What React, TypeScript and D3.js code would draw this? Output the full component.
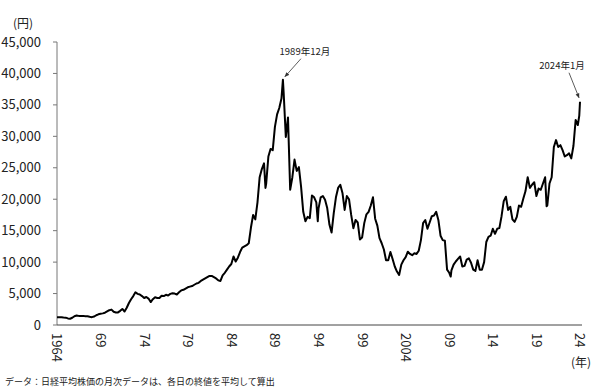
import React from "react";
import * as d3 from "d3";

// Nikkei monthly averages
const startYear = 1964;
const quarterMonths = [1, 4, 7, 10];
const quarterlyAverages: number[][] = [
  [1250, 1230, 1220, 1180], // 1964
  [1170, 1050, 1000, 1150],
  [1400, 1500, 1450, 1430],
  [1450, 1400, 1380, 1300],
  [1250, 1350, 1550, 1700],
  [1800, 1850, 1950, 2150], // 1969
  [2350, 2450, 2100, 2000],
  [2000, 2250, 2550, 2150],
  [2750, 3500, 4100, 4600],
  [5200, 4950, 4850, 4600],
  [4300, 4450, 4200, 3650], // 1974
  [4100, 4400, 4300, 4300],
  [4650, 4600, 4800, 4700],
  [4950, 5050, 5000, 4850],
  [5200, 5500, 5600, 5800],
  [6000, 6100, 6200, 6400], // 1979
  [6600, 6700, 7000, 7200],
  [7400, 7600, 7800, 7800],
  [7600, 7400, 7100, 7000],
  [7900, 8300, 8800, 9300],
  [9700, 10900, 10100, 10700], // 1984
  [11600, 12300, 12500, 12700],
  [13000, 15500, 17500, 16800],
  [19500, 23500, 24800, 25700],
  [22500, 26800, 28000, 27800],
  [31500, 33500, 34500, 36000], // 1989
  [37000, 29900, 33000, 21500],
  [23500, 26300, 24500, 25100],
  [22000, 18000, 16500, 17200],
  [17000, 20600, 20300, 19500],
  [18500, 20300, 20500, 19900], // 1994
  [18600, 16000, 14700, 17800],
  [20300, 21800, 22300, 21000],
  [18300, 20500, 20000, 17500],
  [15400, 16700, 16300, 13600],
  [13900, 16200, 17600, 18000], // 1999
  [19000, 20300, 16900, 15800],
  [13800, 13000, 12000, 10300],
  [10300, 11600, 10500, 9300],
  [8500, 7950, 9600, 10300],
  [10800, 11650, 11300, 11100], // 2004
  [11400, 11300, 11800, 13500],
  [16200, 16700, 15300, 16300],
  [17300, 17400, 18000, 16700],
  [14200, 13500, 13400, 8800],
  [8300, 8700, 9600, 10100], // 2009
  [10500, 10900, 9300, 9400],
  [10400, 10600, 9900, 8800],
  [8600, 10300, 8800, 8800],
  [10000, 13200, 14000, 14200],
  [15300, 14500, 15300, 15400], // 2014
  [17300, 19700, 20400, 18300],
  [18800, 16800, 16400, 17200],
  [19000, 18800, 20100, 21300],
  [23500, 21800, 22300, 22700],
  [20500, 21700, 21500, 22500], // 2019
  [23500, 19000, 22500, 23500],
  [28300, 29400, 28300, 28600],
  [27800, 26800, 27000, 27300],
  [26500, 28500, 32600, 31800],
];
const extraMonths: [string, number][] = [
  ["1987-12", 21800],
  ["1989-12", 39000],
  ["1993-12", 16500],
  ["2009-03", 7700],
  ["2020-03", 18900],
  ["2023-12", 33300],
  ["2024-01", 35500],
];

const yTicks = [0, 5000, 10000, 15000, 20000, 25000, 30000, 35000, 40000, 45000];
const xTickYears = [1964, 1969, 1974, 1979, 1984, 1989, 1994, 1999, 2004, 2009, 2014, 2019, 2024];
const xTickLabels = ["1964", "69", "74", "79", "84", "89", "94", "99", "2004", "09", "14", "19", "24"];
const peakLabel = { key: "1989-12", text: "1989年12月" };
const lastLabel = { key: "2024-01", text: "2024年1月" };
const footnote = "データ：日経平均株価の月次データは、各日の終値を平均して算出";

const font = "'Noto Sans CJK JP', 'Noto Sans', sans-serif";

const monthIndex = (y: number, m: number) => (y - startYear) * 12 + (m - 1);
const keyIndex = (k: string) => {
  const [y, m] = k.split("-").map(Number);
  return monthIndex(y, m);
};

type Pt = { i: number; v: number };

const points: Pt[] = [];
quarterlyAverages.forEach((row, r) => {
  row.forEach((v, q) => points.push({ i: monthIndex(startYear + r, quarterMonths[q]), v }));
});
extraMonths.forEach(([k, v]) => points.push({ i: keyIndex(k), v }));
points.sort((a, b) => a.i - b.i);

const App: React.FC = () => {
  const width = 600;
  const height = 392;
  const left = 57;
  const right = 580;
  const top = 42;
  const bottom = 325;

  const x = d3.scaleLinear().domain([0, monthIndex(2024, 1)]).range([left, right]);
  const y = d3.scaleLinear().domain([0, 45000]).range([bottom, top]);

  const line = d3
    .line<Pt>()
    .x((d) => x(d.i))
    .y((d) => y(d.v));

  const fmt = d3.format(",");

  const peak = points.find((p) => p.i === keyIndex(peakLabel.key))!;
  const last = points.find((p) => p.i === keyIndex(lastLabel.key))!;
  const px = x(peak.i);
  const py = y(peak.v);
  const lx = x(last.i);
  const ly = y(last.v);

  return (
    <svg
      width={width}
      height={height}
      style={{ position: "fixed", left: 0, top: 0, background: "#fff", fontFamily: font }}
    >
      <defs>
        <marker id="arr" viewBox="0 0 10 10" refX="9" refY="5" markerWidth="6" markerHeight="6" orient="auto">
          <path d="M0,1 L10,5 L0,9 z" fill="#333" />
        </marker>
      </defs>

      {/* y axis */}
      <line x1={left} x2={left} y1={top} y2={bottom} stroke="#777" strokeWidth={1} />
      {yTicks.map((t) => (
        <g key={t}>
          <line x1={left - 4} x2={left} y1={y(t)} y2={y(t)} stroke="#777" />
          <text x={41} y={y(t)} dy="0.35em" textAnchor="end" fontSize={13} fill="#222">
            {fmt(t)}
          </text>
        </g>
      ))}
      <text x={23} y={28} textAnchor="middle" fontSize={12} fill="#222">
        (円)
      </text>

      {/* x axis */}
      <line x1={left} x2={right + 2} y1={bottom} y2={bottom} stroke="#444" strokeWidth={1} />
      {xTickYears.map((yr, k) => (
        <text
          key={yr}
          transform={`translate(${x(monthIndex(yr, 1))},${bottom + 8}) rotate(90)`}
          dy="0.35em"
          textAnchor="start"
          fontSize={13}
          fill="#222"
        >
          {xTickLabels[k]}
        </text>
      ))}
      <text x={581} y={367} textAnchor="middle" fontSize={12} fill="#222">
        (年)
      </text>

      {/* series */}
      <path d={line(points) || ""} fill="none" stroke="#000" strokeWidth={2} strokeLinejoin="round" />

      {/* annotations */}
      <line x1={px + 18} y1={py - 21} x2={px + 2} y2={py - 3} stroke="#333" strokeWidth={0.8} markerEnd="url(#arr)" />
      <text x={px + 22} y={py - 25} textAnchor="middle" fontSize={9.5} fill="#222">
        {peakLabel.text}
      </text>
      <line x1={lx - 11} y1={ly - 29} x2={lx - 1} y2={ly - 4} stroke="#333" strokeWidth={0.8} markerEnd="url(#arr)" />
      <text x={lx - 18} y={ly - 33} textAnchor="middle" fontSize={9.5} fill="#222">
        {lastLabel.text}
      </text>

      <text x={5} y={385} fontSize={9} fill="#222">
        {footnote}
      </text>
    </svg>
  );
};

export default App;
